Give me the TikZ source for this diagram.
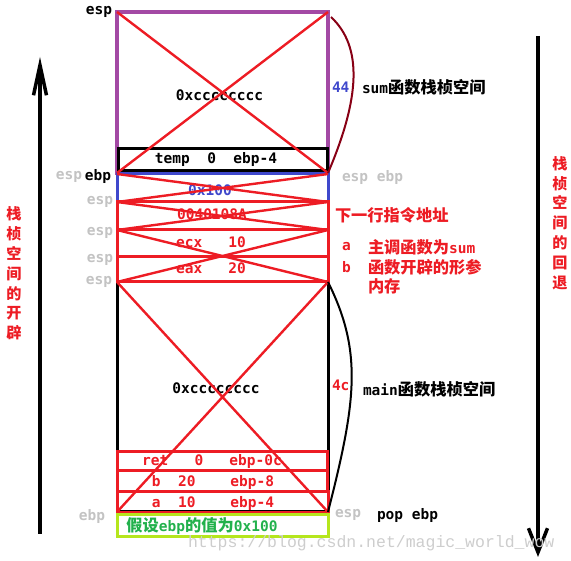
\documentclass[tikz,border=0pt]{standalone}
\usepackage{fontspec}
\setmainfont{DejaVu Sans Mono}
\newfontfamily\cjk{Noto Sans CJK SC}[Scale=1.12]
\newfontfamily\wm{Liberation Mono}
\usetikzlibrary{arrows.meta}

\definecolor{fpurple}{RGB}{163,73,164}
\definecolor{fblue}{RGB}{63,72,204}
\definecolor{fred}{RGB}{237,28,36}
\definecolor{fdarkred}{RGB}{136,0,21}
\definecolor{flime}{RGB}{181,230,29}
\definecolor{fgreen}{RGB}{34,177,76}
\definecolor{tagray}{RGB}{195,195,195}
\definecolor{wmgray}{RGB}{205,205,205}

\newcommand{\zh}[1]{{\cjk #1}}

\begin{document}
\begin{tikzpicture}[x=1pt,y=-1pt,
  font=\fontsize{14.5}{17}\selectfont\bfseries,
  every node/.style={inner sep=0pt,outer sep=0pt},
  frame/.style={draw,line width=3pt,minimum width=211pt},
  redframe/.style={frame,draw=fred},
  cross/.style={draw=fred,line width=2.4pt},
  tag/.style={text=tagray},
  note/.style={anchor=west,text=fred},
  vtext/.style={text=fred,align=center,font=\cjk\fontsize{13.5}{19.8}\selectfont\bfseries},
  bigarrow/.style={line width=3.5pt}]
\useasboundingbox (0,0) rectangle (571,561);

% frames
\node[frame,draw=fpurple,line width=4pt,minimum height=161pt] (sumf) at (222.5,92.5) {};
\node[frame,minimum width=209pt,minimum height=22pt] (temp) at (222.5,160) {};
\node[frame,draw=fblue,minimum height=28pt] (argb) at (222.5,188) {};
\node[redframe,minimum height=28pt] (reta) at (222.5,216) {};
\node[redframe,minimum height=27pt] (ecxb) at (222.5,243.5) {};
\node[frame,minimum height=230pt] (mainf) at (222.5,397) {};
\node[redframe,minimum height=25pt] (eaxb) at (222.5,269.5) {};
\node[redframe,minimum width=210pt,minimum height=19pt] (retb) at (222,461.5) {};
\node[redframe,minimum width=210pt,minimum height=21pt] (bvar) at (222,481.5) {};
\node[redframe,minimum height=21pt] (avar) at (222.5,502.5) {};
\node[frame,draw=flime,minimum height=22pt] (ebpb) at (222.5,526) {};

% contents
\node (sumtxt) at (219.5,95) {0xcccccccc};
\node (temptxt) at (216,160) {temp\ \ 0\ \ ebp-4};
\node[text=fblue] (argtxt) at (210,190) {0x100};
\node[text=fred] (retatxt) at (212,214) {0040108A};
\node[text=fred] (ecxtxt) at (211,242) {ecx\ \ \ 10};
\node[text=fred] (eaxtxt) at (211,268) {eax\ \ \ 20};
\node (maintxt) at (216,388) {0xcccccccc};
\node[text=fred] (rettxt) at (212,462) {ret\ \ \ 0\ \ \ ebp-0c};
\node[text=fred] (btxt) at (213,483) {b\ \ 20\ \ \ \ ebp-8};
\node[text=fred] (atxt) at (213,504) {a\ \ 10\ \ \ \ ebp-4};
\node[text=fgreen] (ebpval) at (202,526) {\zh{假设}ebp\zh{的值为}0x100};

\draw[cross] (sumf.north west) -- (sumf.south east) (sumf.north east) -- (sumf.south west);
\draw[cross] (argb.north west) -- (argb.south east) (argb.north east) -- (argb.south west);
\draw[cross] (reta.north west) -- (reta.south east) (reta.north east) -- (reta.south west);
\draw[cross] (ecxb.north west) -- (eaxb.south east) (ecxb.north east) -- (eaxb.south west);
\draw[cross] (mainf.north west) -- (mainf.south east) (mainf.north east) -- (mainf.south west);

\draw[fdarkred,line width=2pt] ([shift={(3,5)}]sumf.north east) .. controls +(32,30) and +(32,-75) .. (sumf.south east);
\draw[line width=2pt] (mainf.north east) .. controls +(35,70) and +(28,-110) .. (mainf.south east);

% left tags
\node[anchor=east] (esp0) at (112,12) {esp};
\node[anchor=east,tag] (esp1) at (82,177) {esp};
\node[anchor=east] (ebp1) at (111,177) {ebp};
\node[anchor=east,tag] (esp2) at (113,202) {esp};
\node[anchor=east,tag] (esp3) at (113,233) {esp};
\node[anchor=east,tag] (esp4) at (113,260) {esp};
\node[anchor=east,tag] (esp5) at (112,282) {esp};
\node[anchor=east,tag] (ebp0) at (105,517) {ebp};

% right notes
\node[anchor=west,text=fblue] (n44) at (332,87) {44};
\node[anchor=west] (sumlbl) at (362,87) {sum\zh{函数栈桢空间}};
\node[anchor=west,tag] (espebp) at (342,178) {esp ebp};
\node[note] (nextins) at (335,215) {\zh{下一行指令地址}};
\node[note] (aa) at (342,247) {a};
\node[note] (anote) at (368,247) {\zh{主调函数为}sum};
\node[note] (bb) at (342,267) {b};
\node[note] (bnote) at (368,267) {\zh{函数开辟的形参}};
\node[note] (bnote2) at (368,286) {\zh{内存}};
\node[note] (n4c) at (332,385) {4c};
\node[anchor=west] (mainlbl) at (363,389) {main\zh{函数栈桢空间}};
\node[anchor=west,tag] (esp6) at (335,515) {esp};
\node[anchor=west] (popebp) at (377,515) {pop ebp};

% growth and rollback
\coordinate (upbot) at (40,534);
\coordinate (uptop) at (40,57);
\coordinate (dntop) at (538,36);
\coordinate (dnbot) at (538,557);
\draw[bigarrow,-{Straight Barb[length=30pt,width=13pt]}] (upbot) -- (uptop);
\draw[bigarrow,-{Straight Barb[length=24pt,width=19pt]}] (dntop) -- (dnbot);
\node[vtext] (opentxt) at (14,273.5) {栈\\桢\\空\\间\\的\\开\\辟};
\node[vtext] (backtxt) at (560,223) {栈\\桢\\空\\间\\的\\回\\退};

\node[anchor=west,text=wmgray,font=\wm\fontsize{16.5}{17}\selectfont] (wmark) at (188,543) {https://blog.csdn.net/magic\_world\_wow};
\end{tikzpicture}
\end{document}
